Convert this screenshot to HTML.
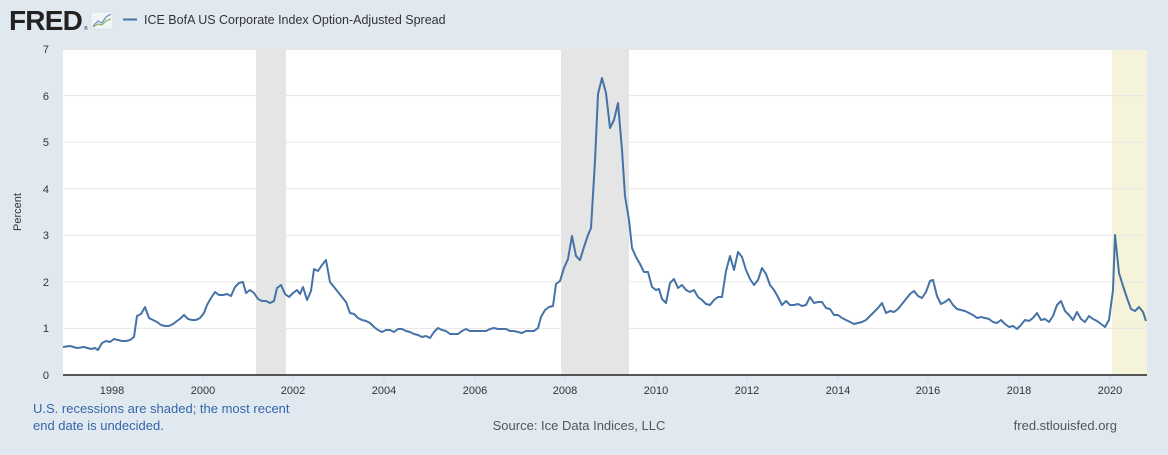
<!DOCTYPE html>
<html><head><meta charset="utf-8"><style>
body{margin:0;width:1168px;height:450px;background:#e1e9f0;font-family:"Liberation Sans",sans-serif;overflow:hidden}
</style></head><body>
<svg width="1168" height="450" xmlns="http://www.w3.org/2000/svg" font-family="Liberation Sans, sans-serif">
<rect width="1168" height="450" fill="#e1e9f0"/>
<text x="9" y="30" font-size="28" font-weight="bold" fill="#222" letter-spacing="-0.8">FRED</text>
<text x="84" y="30" font-size="5" fill="#222">®</text>
<rect x="91" y="12" width="22" height="17" fill="#f2f5f8" stroke="#cfd8e0" stroke-width="0.6"/>
<polyline points="93,26 98,21 102,23 106,17 111,14" fill="none" stroke="#6a8fc4" stroke-width="1.2"/>
<polyline points="93,27 98,24 102,25 106,21 111,19" fill="none" stroke="#86b35a" stroke-width="1.2"/>
<line x1="123" y1="19.5" x2="137" y2="19.5" stroke="#4572a7" stroke-width="2"/>
<text x="144" y="24" font-size="12.5" fill="#333">ICE BofA US Corporate Index Option-Adjusted Spread</text>
<rect x="63" y="49" width="1084" height="326" fill="#fff"/>
<rect x="256" y="49" width="30" height="326" fill="#e5e5e5"/>
<rect x="561" y="49" width="68" height="326" fill="#e5e5e5"/>
<rect x="1112" y="49" width="35" height="326" fill="#f5f3d9"/>
<g stroke="#e6e6e6" stroke-width="1">
<line x1="63" x2="1147" y1="328.4" y2="328.4"/><line x1="63" x2="1147" y1="281.9" y2="281.9"/>
<line x1="63" x2="1147" y1="235.3" y2="235.3"/><line x1="63" x2="1147" y1="188.7" y2="188.7"/>
<line x1="63" x2="1147" y1="142.2" y2="142.2"/><line x1="63" x2="1147" y1="95.6" y2="95.6"/>
<line x1="63" x2="1147" y1="49.5" y2="49.5"/>
</g>
<line x1="63" x2="1147" y1="375" y2="375" stroke="#222" stroke-width="1.5"/>
<g stroke="#ccd6eb"><line x1="112" x2="112" y1="376" y2="381"/><line x1="203" x2="203" y1="376" y2="381"/><line x1="293" x2="293" y1="376" y2="381"/><line x1="384" x2="384" y1="376" y2="381"/><line x1="475" x2="475" y1="376" y2="381"/><line x1="565" x2="565" y1="376" y2="381"/><line x1="656" x2="656" y1="376" y2="381"/><line x1="747" x2="747" y1="376" y2="381"/><line x1="838" x2="838" y1="376" y2="381"/><line x1="928" x2="928" y1="376" y2="381"/><line x1="1019" x2="1019" y1="376" y2="381"/><line x1="1110" x2="1110" y1="376" y2="381"/></g>
<g font-size="11" fill="#333" text-anchor="middle">
<text x="112" y="394">1998</text><text x="203" y="394">2000</text><text x="293" y="394">2002</text><text x="384" y="394">2004</text><text x="475" y="394">2006</text><text x="565" y="394">2008</text><text x="656" y="394">2010</text><text x="747" y="394">2012</text><text x="838" y="394">2014</text><text x="928" y="394">2016</text><text x="1019" y="394">2018</text><text x="1110" y="394">2020</text>
</g>
<g font-size="11" fill="#333" text-anchor="end">
<text x="49" y="379">0</text><text x="49" y="332">1</text><text x="49" y="286">2</text><text x="49" y="239">3</text><text x="49" y="193">4</text><text x="49" y="146">5</text><text x="49" y="100">6</text><text x="49" y="53">7</text>
</g>
<text transform="translate(21,212) rotate(-90)" font-size="11" fill="#333" text-anchor="middle">Percent</text>
<polyline fill="none" stroke="#4572a7" stroke-width="2" stroke-linejoin="round" points="63,347 70,346 77,348 84,347 91,349 95,348 98,350 102,343 106,341 110,342 114,339 118,340 122,341 126,341 130,340 134,337 137,316 141,314 145,307 149,318 153,320 157,322 161,325 165,326 169,326 173,324 177,321 181,318 184,315 188,319 192,320 196,320 200,318 204,313 207,305 211,298 215,292 219,295 223,295 227,294 231,296 235,287 239,283 243,282 246,293 250,290 254,293 258,299 262,301 266,301 270,303 274,301 277,288 281,285 285,294 289,297 293,293 297,290 300,294 303,287 307,300 311,291 314,269 318,271 322,265 326,260 330,282 334,287 338,292 342,297 346,302 350,313 354,314 358,318 362,320 366,321 370,323 374,327 378,330 382,332 386,330 390,330 394,332 398,329 402,329 406,331 410,332 414,334 418,335 422,337 426,336 430,338 434,332 438,328 442,330 446,331 450,334 454,334 458,334 462,331 466,329 470,331 474,331 478,331 482,331 486,331 490,329 494,328 498,329 502,329 506,329 510,331 514,331 518,332 522,333 526,331 530,331 534,331 538,328 541,317 545,310 549,307 553,306 556,284 560,281 564,268 568,259 572,236 576,256 580,260 584,247 588,235 591,228 595,161 598,94 602,78 606,93 610,128 614,120 618,103 622,150 625,196 629,220 632,248 636,257 640,264 644,272 648,272 652,287 656,290 659,289 662,299 666,303 670,283 674,279 678,288 682,285 686,290 690,292 694,290 698,297 702,300 706,304 710,305 714,300 718,297 722,297 726,271 730,256 734,270 738,252 742,257 746,270 750,279 754,285 758,280 762,268 766,274 770,285 774,290 778,297 782,305 786,301 790,305 794,305 798,304 802,306 806,305 810,297 814,303 818,302 822,302 826,308 830,309 834,315 838,315 842,318 846,320 850,322 854,324 858,323 862,322 866,320 870,316 874,312 878,308 882,303 886,313 890,311 894,312 898,309 902,304 906,299 910,294 914,291 918,296 922,298 926,292 930,281 933,280 937,296 941,304 945,302 949,299 953,305 957,309 961,310 965,311 969,313 973,315 977,318 981,317 985,318 989,319 993,322 997,323 1001,320 1005,324 1009,327 1013,326 1017,329 1021,325 1025,320 1029,321 1033,318 1037,313 1041,320 1045,319 1049,322 1053,316 1057,305 1061,301 1065,311 1069,315 1073,320 1077,312 1081,319 1085,322 1089,316 1093,319 1097,321 1101,324 1105,327 1109,320 1113,290 1115,235 1119,273 1123,286 1127,298 1131,309 1135,311 1139,307 1143,312 1146,321"/>
<text x="33" y="413" font-size="13" fill="#3566a8">U.S. recessions are shaded; the most recent</text>
<text x="33" y="430" font-size="13" fill="#3566a8">end date is undecided.</text>
<text x="579" y="430" font-size="13" fill="#555" text-anchor="middle">Source: Ice Data Indices, LLC</text>
<text x="1117" y="430" font-size="13" fill="#555" text-anchor="end">fred.stlouisfed.org</text>
</svg>
</body></html>
